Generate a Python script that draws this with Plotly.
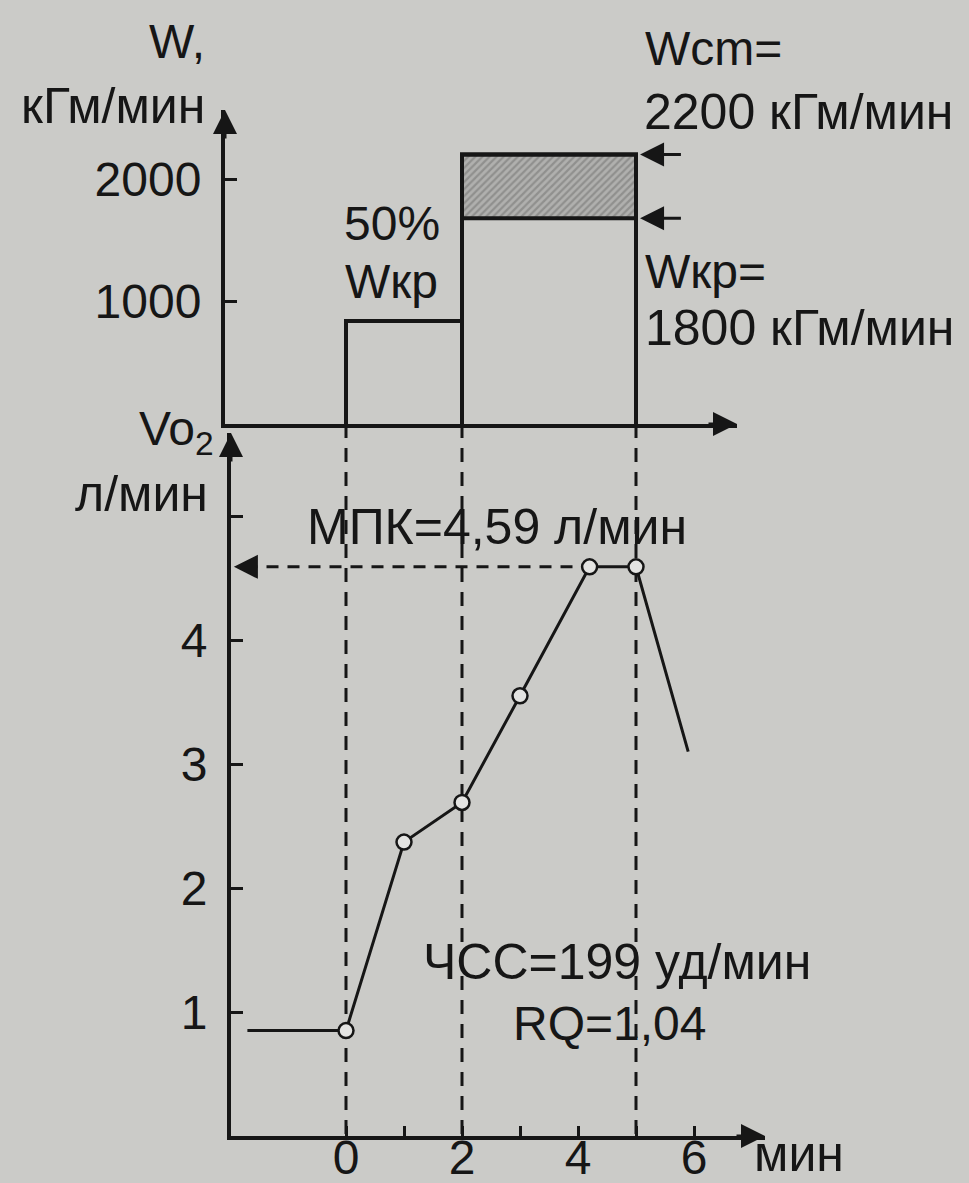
import plotly.graph_objects as go

# ---------------- data ----------------
# Load protocol (top panel): time, min / power, kGm/min
w_t = [0, 0, 2, 2, 2, 5, 5]
w_v = [0, 840, 840, 0, 2200, 2200, 0]
w_crit = 1680          # level of hatched box bottom as drawn (labelled Wкр = 1800)
w_max = 2200           # Wст
stage_t = [0, 2, 5]    # dashed stage markers

# Oxygen uptake (bottom panel)
vo2_t = [-1.7, 0, 1, 2, 3, 4.2, 5, 5.9]
vo2_v = [0.85, 0.85, 2.37, 2.69, 3.55, 4.59, 4.59, 3.1]
vo2_marked = [False, True, True, True, True, True, True, False]
mpk_value = 4.59
mpk_t = 4.2

w_ticks = [1000, 2000]
vo2_ticks = [1, 2, 3, 4, 5]
vo2_ticktext = ["1", "2", "3", "4", ""]
t_ticks = [0, 1, 2, 3, 4, 5, 6]
t_ticktext = ["0", "", "2", "", "4", "", "6"]

# ---------------- layout geometry ----------------
W, H = 969, 1183
PX0, PXM = 346, 58.0     # pixel of t=0, pixels per minute


def t_at(px):
    return (px - PX0) / PXM


def py(p):
    return 1 - p / H


x1_dom = [225 / W, 737 / W]
x1_rng = [t_at(225), t_at(737)]
x2_dom = [231 / W, 765 / W]
x2_rng = [t_at(231), t_at(765)]
y1_dom = [py(424), py(110)]
y1_rng = [0, (424 - 110) / 0.1225]
y2_dom = [py(1136), py(433)]
y2_rng = [0, (1136 - 433) / 124.0]

INK = "#161616"
BG = "#cbcbc8"
FONT = "Liberation Sans, Arial, sans-serif"
FS = 48

fig = go.Figure()

# hatched zone between Wкр and Wст
fig.add_trace(go.Bar(
    x=[(stage_t[1] + stage_t[2]) / 2], y=[w_max - w_crit], base=[w_crit],
    width=[stage_t[2] - stage_t[1]],
    marker=dict(color="#a9a9a7",
                line=dict(color=INK, width=4),
                pattern=dict(shape="/", fgcolor="#6f6f6d", bgcolor="#b0b0ae",
                             size=5, solidity=0.45)),
    xaxis="x", yaxis="y", showlegend=False, hoverinfo="skip"))

# load steps
fig.add_trace(go.Scatter(x=w_t, y=w_v, mode="lines",
                         line=dict(color=INK, width=4),
                         xaxis="x", yaxis="y", showlegend=False))

# MPK dashed guide
fig.add_trace(go.Scatter(x=[x2_rng[0] + 0.25, mpk_t], y=[mpk_value, mpk_value],
                         mode="lines", line=dict(color=INK, width=3, dash="12px,9px"),
                         xaxis="x2", yaxis="y2", showlegend=False))

# VO2 curve
fig.add_trace(go.Scatter(x=vo2_t, y=vo2_v, mode="lines",
                         line=dict(color=INK, width=3),
                         xaxis="x2", yaxis="y2", showlegend=False))
fig.add_trace(go.Scatter(
    x=[t for t, m in zip(vo2_t, vo2_marked) if m],
    y=[v for v, m in zip(vo2_v, vo2_marked) if m],
    mode="markers",
    marker=dict(symbol="circle", size=15, color="#e4e4e2",
                line=dict(color=INK, width=2.5)),
    xaxis="x2", yaxis="y2", showlegend=False))

shapes = []
for t in stage_t:
    shapes.append(dict(type="line", xref="x", yref="paper", x0=t, x1=t,
                       y0=y1_dom[0], y1=y2_dom[0],
                       line=dict(color=INK, width=3, dash="14px,10px"),
                       layer="below"))

ann = []
AH = dict(showarrow=True, arrowhead=2, arrowsize=1.6, arrowwidth=3,
          arrowcolor=INK, text="")
# axis arrows
ann.append(dict(x=x1_rng[0], y=y1_rng[1], xref="x", yref="y", ax=0, ay=30, **AH))
ann.append(dict(x=x1_rng[1], y=0, xref="x", yref="y", ax=-30, ay=0, **AH))
ann.append(dict(x=x2_rng[0], y=y2_rng[1], xref="x2", yref="y2", ax=0, ay=30, **AH))
ann.append(dict(x=x2_rng[1], y=0, xref="x2", yref="y2", ax=-30, ay=0, **AH))
# MPK arrowhead
ann.append(dict(x=x2_rng[0] + 0.05, y=mpk_value, xref="x2", yref="y2", ax=24, ay=0, **AH))
# Wст / Wкр arrows
for lvl in (w_max, w_crit):
    ann.append(dict(x=stage_t[2] + 0.07, y=lvl, xref="x", yref="y",
                    ax=stage_t[2] + 0.8, ay=lvl, axref="x", ayref="y", **AH))


def txt(s, x, y, xa="left", size=FS):
    ann.append(dict(text=s, x=x / W, y=py(y), xref="paper", yref="paper",
                    xanchor=xa, yanchor="middle", showarrow=False,
                    font=dict(family=FONT, size=size, color=INK)))


txt("W,", 147, 42)
txt("кГм/мин", 207, 106, xa="right", size=50)
txt("50%", 342, 224)
txt("Wкр", 343, 282)
txt("Wcm=", 643, 48)
txt("2200 кГм/мин", 642, 112, size=50)
txt("Wкр=", 643, 272)
txt("1800 кГм/мин", 643, 328, size=50)
txt("Vo<sub>2</sub>", 137, 432)
txt("л/мин", 210, 494, xa="right", size=50)
txt("МПК=4,59 л/мин", 305, 527, size=50)
txt("ЧСС=199 уд/мин", 421, 962, size=50)
txt("RQ=1,04", 511, 1024)
txt("мин", 752, 1154, size=50)

axis_common = dict(showgrid=False, zeroline=False, showline=True, linecolor=INK,
                   linewidth=4, tickcolor=INK, tickwidth=3,
                   tickfont=dict(family=FONT, size=FS, color=INK))

fig.update_layout(
    width=W, height=H, margin=dict(l=0, r=0, t=0, b=0, autoexpand=False),
    paper_bgcolor=BG, plot_bgcolor="rgba(0,0,0,0)",
    showlegend=False, barmode="overlay",
    xaxis=dict(domain=x1_dom, range=x1_rng, anchor="y", showticklabels=False,
               ticks="", **axis_common),
    yaxis=dict(domain=y1_dom, range=y1_rng, anchor="x", tickvals=w_ticks,
               ticktext=[str(v) for v in w_ticks], ticks="inside", ticklen=12,
               ticklabelstandoff=10, **axis_common),
    xaxis2=dict(domain=x2_dom, range=x2_rng, anchor="y2", tickvals=t_ticks,
                ticktext=t_ticktext, ticks="inside", ticklen=10,
                ticklabelstandoff=-24, **axis_common),
    yaxis2=dict(domain=y2_dom, range=y2_rng, anchor="x2", tickvals=vo2_ticks,
                ticktext=vo2_ticktext, ticks="inside", ticklen=12,
                ticklabelstandoff=10, **axis_common),
    shapes=shapes, annotations=ann,
)

fig.write_html("out.html", config={"displayModeBar": False, "responsive": False})

# remove the browser's default page margin so the figure fills the window exactly
with open("out.html", encoding="utf-8") as f:
    html = f.read()
css = ("<style>html,body{margin:0;padding:0;width:969px;height:1183px;"
       "overflow:hidden;}body>div{position:absolute;top:0;left:0;}</style>")
html = html.replace("<head>", "<head>" + css, 1)
with open("out.html", "w", encoding="utf-8") as f:
    f.write(html)
